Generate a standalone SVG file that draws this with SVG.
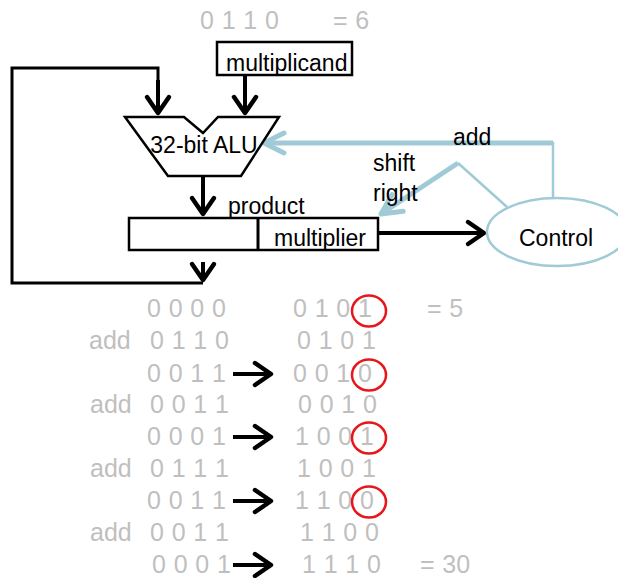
<svg xmlns="http://www.w3.org/2000/svg" width="618" height="578" viewBox="0 0 618 578">
<style>
text{font-family:"Liberation Sans",Arial,sans-serif}
.g{fill:#bfbfbf;font-size:25px;word-spacing:0.8px}
.k{fill:#000;font-size:23px}
.box{fill:#fff;stroke:#000;stroke-width:2.5}
.bl{fill:none;stroke:#000;stroke-width:3}
.ba{fill:none;stroke:#000;stroke-width:4;marker-end:url(#ah)}
.cl{fill:none;stroke:#a0cbd6;stroke-width:2.5}
.ca{fill:none;stroke:#a0cbd6;stroke-width:5;marker-end:url(#bh)}
.rc{fill:none;stroke:#e8161b;stroke-width:2.5}
</style>
<defs>
<marker id="ah" markerUnits="userSpaceOnUse" markerWidth="40" markerHeight="40" viewBox="-20 -20 40 40" refX="0" refY="0" orient="auto" overflow="visible">
<path d="M-16,-11 L0,0 L-16,11" fill="none" stroke="#000" stroke-width="4.5" stroke-linecap="round" stroke-linejoin="round"/>
</marker>
<marker id="bh" markerUnits="userSpaceOnUse" markerWidth="40" markerHeight="40" viewBox="-20 -20 40 40" refX="0" refY="0" orient="auto" overflow="visible">
<path d="M-20,-10 L0,0 L-20,10" fill="none" stroke="#a0cbd6" stroke-width="5" stroke-linecap="round" stroke-linejoin="round"/>
</marker>
</defs>

<g id="connectors">
<polyline class="bl" points="203,283 12,283 12,68 158,68 158,90"/>
<line class="ba" x1="158" y1="80" x2="158" y2="113"/>
<line class="ba" x1="245" y1="75" x2="245" y2="113"/>
<line class="ba" x1="203" y1="176" x2="203" y2="214"/>
<line class="ba" x1="203" y1="262" x2="203" y2="280"/>
<line class="ba" x1="378" y1="233" x2="484" y2="233"/>
<polyline class="cl" points="553,204 553,143 300,143"/>
<line class="ca" x1="553" y1="143" x2="264" y2="143"/>
<polyline class="cl" points="507,207 458,163"/>
<line class="ca" x1="458" y1="163" x2="381" y2="214"/>
</g>

<g id="top-value">
<text class="g" x="200" y="29">0 1 1 0</text>
<text class="g" x="333" y="29">= 6</text>
</g>

<g id="multiplicand">
<rect class="box" x="217" y="42" width="135" height="33"/>
<text class="k" x="226" y="71">multiplicand</text>
</g>

<g id="alu">
<polygon class="box" stroke-width="1.2" points="125,117 184,117 203,133 218,117 279,117 241,176 168,176"/>
<text class="k" x="204" y="153" text-anchor="middle">32-bit ALU</text>
</g>

<g id="product">
<rect class="box" x="129" y="218" width="249" height="32"/>
<line class="bl" x1="258" y1="218" x2="258" y2="250"/>
<text class="k" x="228" y="214">product</text>
<text class="k" x="274" y="246">multiplier</text>
</g>

<g id="control">
<ellipse cx="557" cy="232" rx="70" ry="34" fill="#fff" stroke="#a0cbd6" stroke-width="2.5"/>
<text class="k" x="519" y="246">Control</text>
</g>

<g id="labels">
<text class="k" x="453" y="145">add</text>
<text class="k" x="373" y="171">shift</text>
<text class="k" x="373" y="201">right</text>
</g>

<g id="table">
<text class="g" x="147" y="317">0 0 0 0</text>
<text class="g" x="293" y="317">0 1 0 1</text>
<text class="g" x="427" y="317">= 5</text>

<text class="g" x="89" y="349">add</text>
<text class="g" x="150" y="349">0 1 1 0</text>
<text class="g" x="297" y="349">0 1 0 1</text>

<text class="g" x="147" y="382">0 0 1 1</text>
<text class="g" x="293" y="382">0 0 1 0</text>

<text class="g" x="90" y="413">add</text>
<text class="g" x="150" y="413">0 0 1 1</text>
<text class="g" x="298" y="413">0 0 1 0</text>

<text class="g" x="147" y="445">0 0 0 1</text>
<text class="g" x="295" y="445">1 0 0 1</text>

<text class="g" x="90" y="477">add</text>
<text class="g" x="150" y="477">0 1 1 1</text>
<text class="g" x="297" y="477">1 0 0 1</text>

<text class="g" x="147" y="509">0 0 1 1</text>
<text class="g" x="295" y="509">1 1 0 0</text>

<text class="g" x="90" y="541">add</text>
<text class="g" x="150" y="541">0 0 1 1</text>
<text class="g" x="300" y="541">1 1 0 0</text>

<text class="g" x="152" y="573">0 0 0 1</text>
<text class="g" x="302" y="573">1 1 1 0</text>
<text class="g" x="420" y="573">= 30</text>
</g>

<g id="shift-arrows">
<line class="ba" x1="233" y1="374" x2="271" y2="374"/>
<line class="ba" x1="233" y1="437" x2="271" y2="437"/>
<line class="ba" x1="233" y1="501" x2="271" y2="501"/>
<line class="ba" x1="233" y1="565" x2="271" y2="565"/>
</g>

<g id="circles">
<ellipse class="rc" cx="369" cy="311" rx="17" ry="15.5"/>
<ellipse class="rc" cx="369" cy="375" rx="17" ry="15.5"/>
<ellipse class="rc" cx="369" cy="438" rx="17" ry="15.5"/>
<ellipse class="rc" cx="369" cy="502" rx="17" ry="15.5"/>
</g>
</svg>
